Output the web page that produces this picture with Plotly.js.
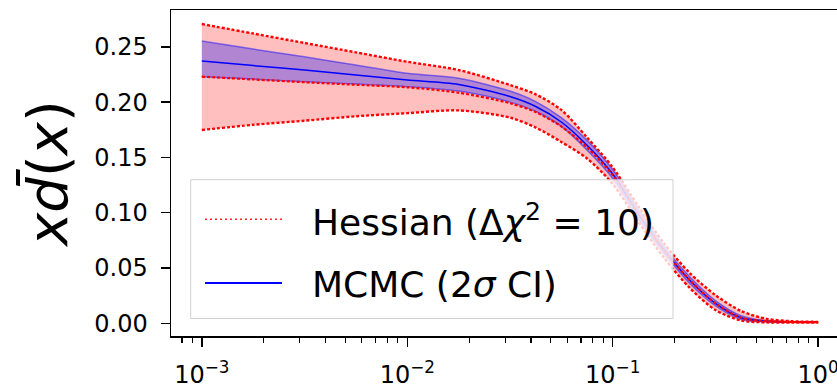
<!DOCTYPE html>
<html>
<head>
<meta charset="utf-8">
<script src="https://cdn.plot.ly/plotly-3.0.1.min.js"></script>
<style>
  html, body { margin: 0; padding: 0; background: #fff; overflow: hidden; }
  #plot { width: 900px; height: 389px; }
</style>
</head>
<body>
<div id="plot"></div>
<script>
// x grid (momentum fraction), log-spaced
const xGrid = [0.001, 0.00178, 0.00316, 0.00562, 0.01, 0.0178, 0.0316, 0.0422, 0.0562, 0.075,
               0.1, 0.133, 0.178, 0.237, 0.316, 0.422, 0.562, 0.75, 1.0];

// Hessian uncertainty band (delta chi^2 = 10)
const hessCenter = [0.2230, 0.2205, 0.2180, 0.2157, 0.2134, 0.2085, 0.1990, 0.1910, 0.1780, 0.1590,
                    0.1340, 0.0990, 0.0660, 0.0390, 0.0180, 0.0050, 0.0020, 0.0012, 0.0010];
const hessUpper  = [0.2706, 0.2620, 0.2535, 0.2450, 0.2365, 0.2290, 0.2155, 0.2070, 0.1930, 0.1680,
                    0.1410, 0.1060, 0.0720, 0.0455, 0.0255, 0.0110, 0.0040, 0.0018, 0.0013];
const hessLower  = [0.1748, 0.1795, 0.1832, 0.1872, 0.1900, 0.1925, 0.1860, 0.1770, 0.1640, 0.1490,
                    0.1260, 0.0920, 0.0590, 0.0320, 0.0120, 0.0025, 0.0008, 0.0006, 0.0006];

// MCMC band (2 sigma credible interval)
const mcmcCenter = [0.2372, 0.2330, 0.2290, 0.2245, 0.2200, 0.2160, 0.2050, 0.1960, 0.1820, 0.1610,
                    0.1350, 0.0990, 0.0660, 0.0390, 0.0180, 0.0050, 0.0018, 0.0012, 0.0010];
const mcmcUpper  = [0.2552, 0.2480, 0.2410, 0.2335, 0.2260, 0.2215, 0.2100, 0.2005, 0.1860, 0.1655,
                    0.1390, 0.1030, 0.0690, 0.0420, 0.0205, 0.0068, 0.0022, 0.0014, 0.0012];
const mcmcLower  = [0.2230, 0.2208, 0.2185, 0.2163, 0.2140, 0.2100, 0.2000, 0.1915, 0.1780, 0.1565,
                    0.1310, 0.0950, 0.0630, 0.0360, 0.0158, 0.0035, 0.0012, 0.0009, 0.0008];

const xTicks = [0.001, 0.01, 0.1, 1];
const xTickText = ['10<sup>−3</sup>', '10<sup>−2</sup>', '10<sup>−1</sup>', '10<sup>0</sup>'];
const yTicks = [0.00, 0.05, 0.10, 0.15, 0.20, 0.25];

const legendLabels = ['Hessian (Δ<i>χ</i><sup>2</sup> = 10)', 'MCMC (2<i>σ</i> CI)'];

const RED = 'rgb(255,0,0)';
const BLUE = 'rgb(0,0,255)';

// minor log ticks: 2..9 times each decade
const minorTicks = [];
for (let d = -4; d <= 0; d++) {
  for (let k = 2; k <= 9; k++) minorTicks.push(k * Math.pow(10, d));
}

function band(lo, hi, color) {
  return [
    { x: xGrid, y: lo, mode: 'lines', line: { width: 0, shape: 'spline', smoothing: 0.8 },
      showlegend: false, hoverinfo: 'skip' },
    { x: xGrid, y: hi, mode: 'lines', line: { width: 0, shape: 'spline', smoothing: 0.8 },
      fill: 'tonexty', fillcolor: color, showlegend: false, hoverinfo: 'skip' }
  ];
}

function curve(y, color, width, dash) {
  return { x: xGrid, y: y, mode: 'lines', showlegend: false,
           line: { color: color, width: width, dash: dash, shape: 'spline', smoothing: 0.8 } };
}

const traces = [
  ...band(hessLower, hessUpper, 'rgba(255,0,0,0.25)'),
  ...band(mcmcLower, mcmcUpper, 'rgba(0,0,255,0.30)'),
  curve(mcmcUpper, 'rgba(0,0,255,0.45)', 1.5, 'solid'),
  curve(mcmcLower, 'rgba(0,0,255,0.45)', 1.5, 'solid'),
  curve(mcmcCenter, BLUE, 1.5, 'solid'),
  curve(hessUpper, RED, 2.4, '3px,2px'),
  curve(hessLower, RED, 2.4, '3px,2px'),
  curve(hessCenter, RED, 2.2, '3px,2px')
];

// plot-area geometry in pixels, used for the hand-drawn legend box
const L = 171, T = 10, W = 900, H = 389, R = 51, B = 52.5;
const pw = W - L - R, ph = H - T - B;
const px = v => (v - L) / pw;
const py = v => (H - B - v) / ph;

const legendBox = { x0: 190.7, x1: 673, y0: 180, y1: 319 };
const rows = [
  { y: 219.5, color: 'rgba(255,0,0,0.85)', dash: '2px,3px', width: 1.6 },
  { y: 283.5, color: BLUE, dash: 'solid', width: 2 }
];

const shapes = [
  { type: 'rect', xref: 'paper', yref: 'paper', layer: 'above',
    x0: px(legendBox.x0), x1: px(legendBox.x1), y0: py(legendBox.y1), y1: py(legendBox.y0),
    fillcolor: 'rgba(255,255,255,0.8)', line: { color: 'rgba(204,204,204,0.9)', width: 1 } }
];
const annotations = [];
rows.forEach((r, i) => {
  shapes.push({ type: 'line', xref: 'paper', yref: 'paper', layer: 'above',
    x0: px(205), x1: px(282), y0: py(r.y), y1: py(r.y),
    line: { color: r.color, width: r.width, dash: r.dash } });
  annotations.push({ xref: 'paper', yref: 'paper', x: px(310), y: py(r.y + 1),
    xanchor: 'left', yanchor: 'middle', showarrow: false, text: legendLabels[i],
    font: { family: 'DejaVu Sans', size: 36, color: '#000' } });
});

const layout = {
  width: W, height: H,
  margin: { l: L, r: R, t: T, b: B, pad: 0 },
  paper_bgcolor: '#fff', plot_bgcolor: '#fff',
  font: { family: 'DejaVu Sans', color: '#000' },
  showlegend: false,
  xaxis: {
    type: 'log', range: [-3.15, 0.15],
    tickmode: 'array', tickvals: xTicks, ticktext: xTickText,
    ticks: 'outside', ticklen: 9, tickwidth: 1.5, tickcolor: '#000',
    ticklabelstandoff: 8,
    minor: { tickmode: 'array', tickvals: minorTicks, ticks: 'outside', ticklen: 5,
             tickwidth: 1.2, tickcolor: '#000', showgrid: false },
    tickfont: { family: 'DejaVu Sans', size: 24, color: '#000' },
    showline: true, linecolor: '#000', linewidth: 1.5, mirror: true,
    showgrid: false, zeroline: false
  },
  yaxis: {
    range: [-0.0115, 0.2833],
    tickmode: 'array', tickvals: yTicks, tickformat: '.2f',
    ticks: 'outside', ticklen: 9, tickwidth: 1.5, tickcolor: '#000',
    ticklabelstandoff: 8,
    tickfont: { family: 'DejaVu Sans', size: 24, color: '#000' },
    showline: true, linecolor: '#000', linewidth: 1.5, mirror: true,
    showgrid: false, zeroline: false,
    title: { text: '<i>x</i><i>d̄</i>(<i>x</i>)', standoff: 8,
             font: { family: 'DejaVu Sans', size: 56, color: '#000' } }
  },
  shapes: shapes,
  annotations: annotations
};

Plotly.newPlot('plot', traces, layout, { staticPlot: true, displayModeBar: false, responsive: false });
</script>
</body>
</html>
